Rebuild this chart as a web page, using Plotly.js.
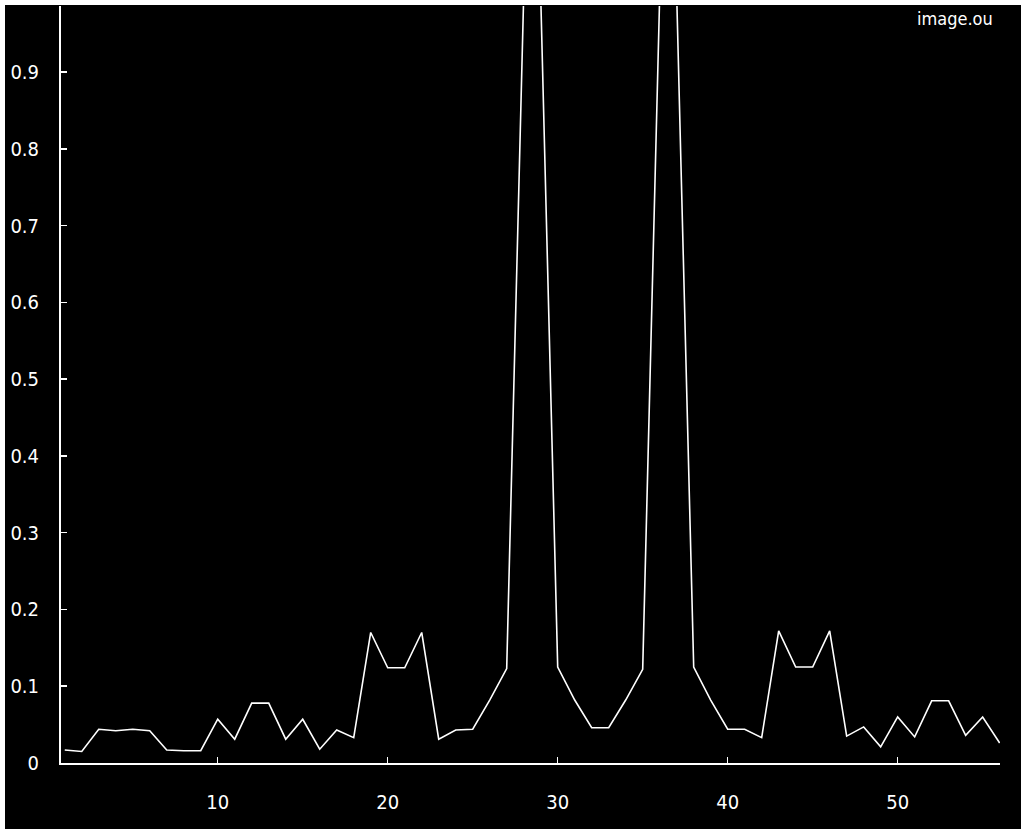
<!DOCTYPE html>
<html>
<head>
<meta charset="utf-8">
<script src="https://cdn.plot.ly/plotly-3.0.1.min.js"></script>
<style>
  html, body { margin: 0; padding: 0; background: #000000; width: 1021px; height: 829px; overflow: hidden; }
  #chart { position: absolute; left: 5px; top: 5px; width: 1016px; height: 824px; }
  #topStrip { position: absolute; left: 0; top: 0; width: 1021px; height: 5px; background: #ffffff; z-index: 5; }
  #leftStrip { position: absolute; left: 0; top: 0; width: 5px; height: 829px; background: #ffffff; z-index: 5; }
</style>
</head>
<body>
<div id="chart"></div>
<div id="topStrip"></div>
<div id="leftStrip"></div>
<script>
const xValues = [1,2,3,4,5,6,7,8,9,10,11,12,13,14,15,16,17,18,19,20,21,22,23,24,25,26,27,28,
                 29,30,31,32,33,34,35,36,37,38,39,40,41,42,43,44,45,46,47,48,49,50,51,52,53,54,55,56];
const yValues = [0.017,0.015,0.044,0.042,0.044,0.042,0.017,0.016,0.016,0.057,0.031,0.078,0.078,0.031,
                 0.057,0.018,0.043,0.033,0.170,0.124,0.124,0.170,0.031,0.043,0.044,0.082,0.123,1.0,
                 1.0,0.125,0.082,0.046,0.046,0.082,0.122,1.0,1.0,0.125,0.082,0.044,0.044,0.033,
                 0.172,0.125,0.125,0.172,0.035,0.047,0.021,0.060,0.034,0.081,0.081,0.036,0.060,0.026];
const xTicks = [10, 20, 30, 40, 50];
const yTicks = [0, 0.1, 0.2, 0.3, 0.4, 0.5, 0.6, 0.7, 0.8, 0.9];
const seriesLabel = 'image.ou';

const fontFam = '"DejaVu Sans Condensed", "Liberation Sans", sans-serif';

const trace = {
  x: xValues, y: yValues, type: 'scatter', mode: 'lines',
  line: { color: '#ffffff', width: 1.6 },
  hoverinfo: 'skip', showlegend: false
};

const layout = {
  width: 1016, height: 824,
  margin: { l: 56, r: 21, t: 1, b: 66, pad: 0 },
  paper_bgcolor: '#000000', plot_bgcolor: '#000000',
  font: { family: fontFam, color: '#ffffff', size: 20 },
  showlegend: false,
  xaxis: {
    range: [0.78, 56.02], tickvals: xTicks, ticktext: xTicks.map(String),
    ticks: 'inside', ticklen: 6, tickwidth: 1.5, tickcolor: '#ffffff',
    showline: true, linecolor: '#ffffff', linewidth: 2,
    showgrid: false, zeroline: false, ticklabelstandoff: 20,
    tickfont: { family: fontFam, color: '#ffffff', size: 20 }
  },
  yaxis: {
    range: [0, 0.986], tickvals: yTicks, ticktext: yTicks.map(String),
    ticks: 'inside', ticklen: 6, tickwidth: 1.5, tickcolor: '#ffffff',
    showline: true, linecolor: '#ffffff', linewidth: 2,
    showgrid: false, zeroline: false, ticklabelstandoff: 16,
    tickfont: { family: fontFam, color: '#ffffff', size: 20 }
  },
  annotations: [{
    text: seriesLabel, xref: 'paper', yref: 'paper', x: 0.995, y: 1.0,
    xanchor: 'right', yanchor: 'top', showarrow: false,
    font: { family: fontFam, color: '#ffffff', size: 18 }
  }]
};

Plotly.newPlot('chart', [trace], layout, { staticPlot: true, displayModeBar: false });
</script>
</body>
</html>
